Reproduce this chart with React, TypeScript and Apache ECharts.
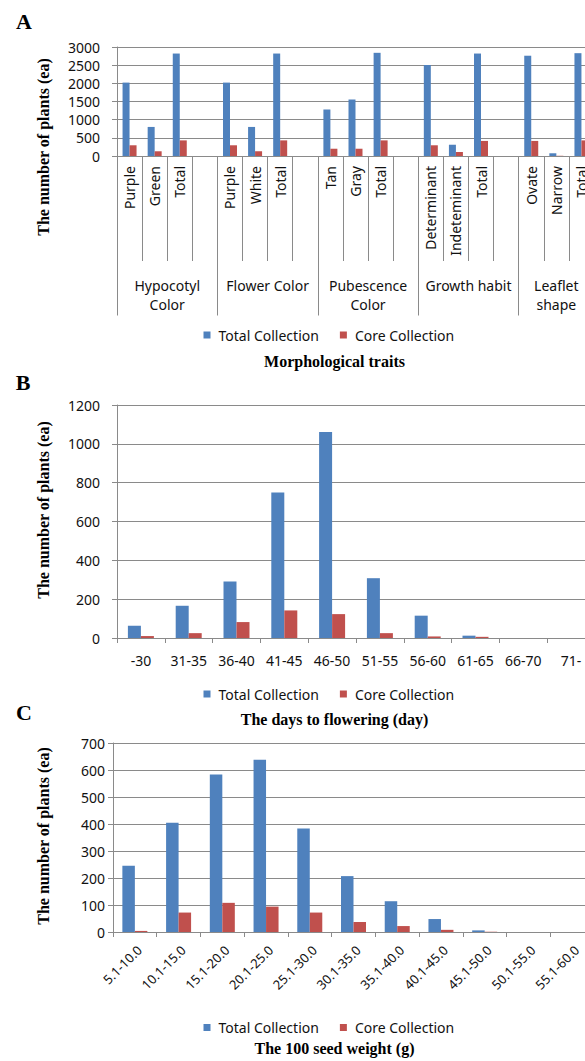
import React, { useEffect, useRef } from 'react';
import * as echarts from 'echarts';

// ---- Panel A: morphological traits ----
const traitSubLabels = [
  'Purple', 'Green', 'Total', '',
  'Purple', 'White', 'Total', '',
  'Tan', 'Gray', 'Total', '',
  'Determinant', 'Indeteminant', 'Total', '',
  'Ovate', 'Narrow', 'Total',
];
const traitGroups = ['Hypocotyl\nColor', 'Flower Color', 'Pubescence\nColor', 'Growth habit', 'Leaflet\nshape'];
const traitGroupStarts = [0, 4, 8, 12, 16];
const traitGroupEnds = [4, 8, 12, 16, 19];
const traitTotal = [2020, 800, 2820, null, 2020, 800, 2820, null, 1280, 1555, 2840, null, 2505, 310, 2820, null, 2760, 75, 2830];
const traitCore = [295, 130, 430, null, 295, 130, 430, null, 200, 200, 430, null, 295, 110, 415, null, 415, 6, 430];

// ---- Panel B: days to flowering ----
const floweringCats = ['-30', '31-35', '36-40', '41-45', '46-50', '51-55', '56-60', '61-65', '66-70', '71-'];
const floweringTotal = [63, 166, 291, 750, 1061, 308, 115, 12, 0, 0];
const floweringCore = [10, 25, 82, 142, 123, 25, 8, 6, 0, 0];

// ---- Panel C: 100 seed weight ----
const seedCats = ['5.1-10.0', '10.1-15.0', '15.1-20.0', '20.1-25.0', '25.1-30.0', '30.1-35.0', '35.1-40.0', '40.1-45.0', '45.1-50.0', '50.1-55.0', '55.1-60.0'];
const seedTotal = [245, 405, 583, 638, 383, 207, 114, 48, 6, 0, 0];
const seedCore = [4, 72, 108, 94, 72, 37, 22, 8, 1, 0, 0];

const seriesNames = ['Total Collection', 'Core Collection'];

const BLUE = '#4F81BD';
const RED = '#C0504D';
const GRID_GRAY = '#8a8a8a';
const TEXT = '#111111';
const SANS = "'Noto Sans', 'DejaVu Sans', sans-serif";
const SERIF = "'Liberation Serif', 'DejaVu Serif', serif";

function yAxis(gridIndex: number, max: number, interval: number, margin: number) {
  return {
    type: 'value',
    gridIndex,
    min: 0,
    max,
    interval,
    axisLine: { show: true, lineStyle: { color: GRID_GRAY, width: 1 } },
    axisTick: { show: true, length: 5, lineStyle: { color: GRID_GRAY } },
    axisLabel: { color: TEXT, fontSize: 14, fontFamily: SANS, margin, formatter: (v: number) => String(v) },
    splitLine: { show: true, lineStyle: { color: GRID_GRAY, width: 1 } },
  };
}

function legend(top: number) {
  return {
    data: seriesNames,
    left: 203.5,
    top,
    padding: 0,
    orient: 'horizontal',
    icon: 'path://M0,0L7,0L7,7L0,7Z',
    itemWidth: 13,
    itemHeight: 7,
    itemGap: 21,
    symbolKeepAspect: true,
    selectedMode: false,
    textStyle: { color: TEXT, fontSize: 14, fontFamily: SANS, lineHeight: 16 },
  };
}

function bars(name: string, data: (number | null)[], color: string, xAxisIndex: number, yAxisIndex: number, barWidth: number) {
  return {
    type: 'bar',
    name,
    data,
    xAxisIndex,
    yAxisIndex,
    barWidth,
    barGap: '0%',
    itemStyle: { color },
  };
}

function sideText(text: string, x: number, y: number, size: number, rotation = 0) {
  return {
    type: 'text',
    x,
    y,
    rotation,
    style: {
      text,
      fill: '#000',
      font: `bold ${size}px ${SERIF}`,
      align: 'center',
      verticalAlign: 'middle',
    },
  };
}

// same half-pixel snapping ECharts uses for 1px lines
function snap(p: number) {
  const d = Math.round(p * 2);
  return (d + 1) % 2 === 0 ? d / 2 : (d + 1) / 2;
}

export default function App() {
  const ref = useRef<HTMLDivElement>(null);

  useEffect(() => {
    if (!ref.current) return;
    const chart = echarts.init(ref.current, null, { renderer: 'svg' });
    const baseGraphic: any[] = [
      sideText('A', 24, 21, 22),
      sideText('B', 23, 382, 22),
      sideText('C', 24, 712, 22),
      sideText('The number of plants (ea)', 43, 147, 16, Math.PI / 2),
      sideText('The number of plants (ea)', 43, 510, 16, Math.PI / 2),
      sideText('The number of plants (ea)', 43, 836, 16, Math.PI / 2),
      sideText('Morphological traits', 334.5, 361.5, 16),
      sideText('The days to flowering (day)', 334.5, 719, 16),
      sideText('The 100 seed weight (g)', 334.5, 1048, 16),
    ];
    const option = {
      animation: false,
      backgroundColor: '#ffffff',
      grid: [
        { left: 117, top: 47, width: 477, height: 109 },
        { left: 117, top: 405, width: 478, height: 233 },
        { left: 113, top: 743, width: 481, height: 189 },
      ],
      xAxis: [
        {
          type: 'category',
          gridIndex: 0,
          position: 'bottom',
          data: traitSubLabels,
          axisLine: { show: true, lineStyle: { color: GRID_GRAY } },
          axisTick: { show: true, interval: 0, length: 105, lineStyle: { color: GRID_GRAY } },
          axisLabel: { interval: 0, rotate: 90, margin: 10, color: TEXT, fontSize: 14, fontFamily: SANS },
          splitLine: { show: false },
        },
        {
          type: 'category',
          gridIndex: 1,
          data: floweringCats,
          axisLine: { show: true, lineStyle: { color: GRID_GRAY } },
          axisTick: { show: true, interval: 0, length: 5, lineStyle: { color: GRID_GRAY } },
          axisLabel: { interval: 0, margin: 15, color: TEXT, fontSize: 14, fontFamily: SANS },
        },
        {
          type: 'category',
          gridIndex: 2,
          data: seedCats,
          axisLine: { show: true, lineStyle: { color: GRID_GRAY } },
          axisTick: { show: true, interval: 0, length: 5, lineStyle: { color: GRID_GRAY } },
          axisLabel: { interval: 0, rotate: 45, margin: 11, verticalAlign: 'top', color: TEXT, fontSize: 13, fontFamily: SANS },
        },
      ],
      yAxis: [
        yAxis(0, 3000, 500, 17),
        yAxis(1, 1200, 200, 17),
        yAxis(2, 700, 100, 8),
      ],
      legend: [legend(327), legend(686), legend(1019.5)],
      series: [
        bars(seriesNames[0], traitTotal, BLUE, 0, 0, 7),
        bars(seriesNames[1], traitCore, RED, 0, 0, 7),
        bars(seriesNames[0], floweringTotal, BLUE, 1, 1, 13),
        bars(seriesNames[1], floweringCore, RED, 1, 1, 13),
        bars(seriesNames[0], seedTotal, BLUE, 2, 2, 12.5),
        bars(seriesNames[1], seedCore, RED, 2, 2, 12.5),
      ],
      graphic: baseGraphic,
    };
    chart.setOption(option as any);

    // Group labels and long group separators for panel A, placed through the category axis scale.
    const toPx = (idx: number) => chart.convertToPixel({ xAxisIndex: 0 }, idx) as number;
    const first = toPx(0);
    const step = toPx(1) - first;
    const edge = (i: number) => first - step / 2 + i * step;
    const axisY = chart.convertToPixel({ yAxisIndex: 0 }, 0) as number;
    const extra: any[] = [];
    const boundaries = Array.from(new Set([...traitGroupStarts, ...traitGroupEnds]));
    boundaries.forEach((b) => {
      const x = snap(edge(b));
      extra.push({
        type: 'line',
        shape: { x1: x, y1: snap(axisY), x2: x, y2: snap(axisY) + 159 },
        style: { stroke: GRID_GRAY, lineWidth: 1 },
        silent: true,
      });
    });
    traitGroups.forEach((g, i) => {
      const cx = (edge(traitGroupStarts[i]) + edge(traitGroupEnds[i])) / 2;
      extra.push({
        type: 'text',
        x: cx,
        y: axisY + 120,
        silent: true,
        style: {
          text: g,
          fill: TEXT,
          font: `14px ${SANS}`,
          lineHeight: 19,
          align: 'center',
          verticalAlign: 'top',
        },
      });
    });
    chart.setOption({ graphic: [...baseGraphic, ...extra] } as any);

    return () => chart.dispose();
  }, []);

  return (
    <div style={{ position: 'absolute', left: 0, top: 0, width: 585, height: 1061, overflow: 'hidden', background: '#fff' }}>
      <div ref={ref} style={{ width: 640, height: 1061 }} />
    </div>
  );
}
